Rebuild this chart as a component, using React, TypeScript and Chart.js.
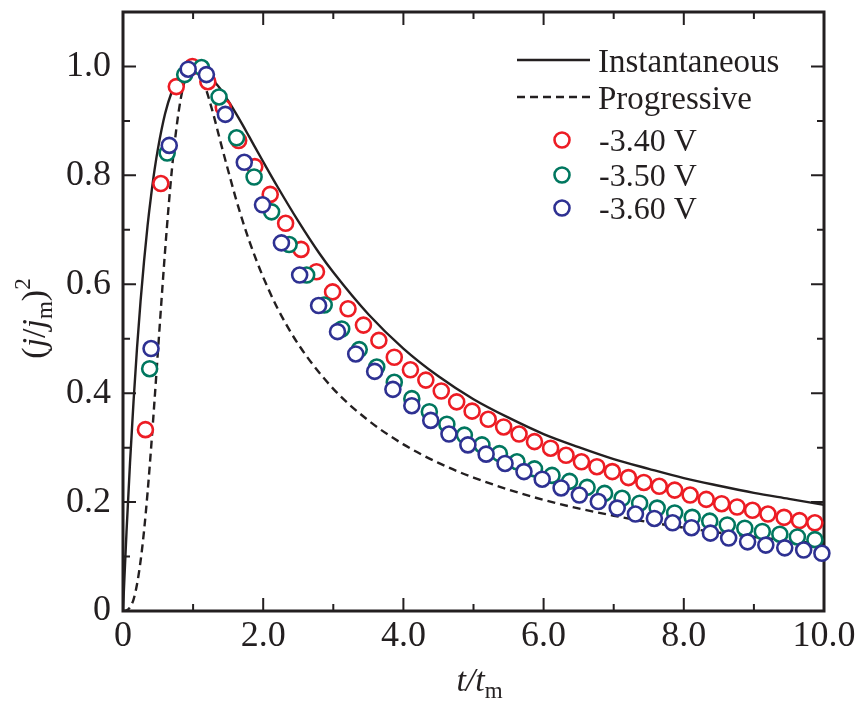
import React, { useEffect, useRef } from 'react';
import { Chart, registerables } from 'chart.js';

Chart.register(...registerables);

// ---- data ----
const instT = [0, 0.02, 0.05, 0.1, 0.15, 0.2, 0.25, 0.3, 0.35, 0.4, 0.45, 0.5, 0.6, 0.7, 0.8, 0.9, 1.0, 1.1, 1.2, 1.3, 1.4, 1.5, 1.6, 1.7, 1.8, 2.0, 2.2, 2.5, 2.8, 3.0, 3.5, 4.0, 4.5, 5.0, 5.5, 6.0, 6.5, 7.0, 7.5, 8.0, 8.5, 9.0, 9.5, 10.0];
const instV = [0, 0.060, 0.145, 0.272, 0.384, 0.483, 0.568, 0.642, 0.707, 0.762, 0.810, 0.850, 0.913, 0.955, 0.982, 0.996, 1.000, 0.996, 0.987, 0.973, 0.957, 0.937, 0.916, 0.894, 0.871, 0.825, 0.780, 0.716, 0.657, 0.622, 0.545, 0.482, 0.431, 0.389, 0.355, 0.325, 0.301, 0.279, 0.261, 0.244, 0.230, 0.217, 0.206, 0.195];

const progT = [0, 0.05, 0.1, 0.15, 0.2, 0.25, 0.3, 0.35, 0.4, 0.45, 0.5, 0.55, 0.6, 0.65, 0.7, 0.75, 0.8, 0.85, 0.9, 0.95, 1.0, 1.05, 1.1, 1.15, 1.2, 1.25, 1.3, 1.35, 1.4, 1.5, 1.6, 1.7, 1.8, 1.9, 2.0, 2.2, 2.5, 3.0, 3.5, 4.0, 4.5, 5.0, 6.0, 7.0, 8.0, 9.0, 10.0];
const progV = [0, 0.001, 0.007, 0.021, 0.049, 0.091, 0.147, 0.217, 0.298, 0.387, 0.480, 0.572, 0.661, 0.742, 0.814, 0.874, 0.922, 0.958, 0.982, 0.996, 1.000, 0.996, 0.986, 0.971, 0.952, 0.930, 0.907, 0.882, 0.857, 0.809, 0.762, 0.719, 0.680, 0.645, 0.613, 0.557, 0.490, 0.408, 0.350, 0.306, 0.272, 0.245, 0.204, 0.175, 0.153, 0.136, 0.123];

const redT = [0.32, 0.54, 0.76, 0.99, 1.21, 1.43, 1.65, 1.88, 2.10, 2.32, 2.54, 2.76, 2.99, 3.21, 3.43, 3.65, 3.87, 4.10, 4.32, 4.54, 4.76, 4.98, 5.21, 5.43, 5.65, 5.87, 6.10, 6.32, 6.54, 6.76, 6.98, 7.21, 7.43, 7.65, 7.87, 8.09, 8.32, 8.54, 8.76, 8.98, 9.20, 9.43, 9.65, 9.87];
const redV = [0.333, 0.785, 0.963, 1.000, 0.972, 0.925, 0.864, 0.816, 0.765, 0.712, 0.664, 0.623, 0.586, 0.555, 0.525, 0.497, 0.466, 0.443, 0.424, 0.404, 0.384, 0.367, 0.352, 0.338, 0.325, 0.311, 0.299, 0.286, 0.274, 0.265, 0.256, 0.245, 0.236, 0.229, 0.222, 0.213, 0.205, 0.197, 0.191, 0.185, 0.178, 0.172, 0.166, 0.162];

const greenT = [0.38, 0.63, 0.88, 1.12, 1.37, 1.62, 1.87, 2.12, 2.37, 2.62, 2.87, 3.12, 3.37, 3.62, 3.87, 4.12, 4.37, 4.62, 4.87, 5.12, 5.37, 5.62, 5.87, 6.12, 6.37, 6.62, 6.87, 7.12, 7.37, 7.62, 7.87, 8.12, 8.37, 8.62, 8.87, 9.12, 9.37, 9.62, 9.87];
const greenV = [0.445, 0.841, 0.985, 0.998, 0.944, 0.869, 0.797, 0.733, 0.673, 0.617, 0.562, 0.518, 0.480, 0.448, 0.420, 0.390, 0.366, 0.343, 0.323, 0.305, 0.289, 0.274, 0.261, 0.249, 0.238, 0.227, 0.216, 0.207, 0.198, 0.189, 0.180, 0.172, 0.165, 0.158, 0.152, 0.146, 0.141, 0.136, 0.131];

const blueT = [0.40, 0.66, 0.93, 1.19, 1.46, 1.73, 1.99, 2.26, 2.52, 2.79, 3.06, 3.32, 3.59, 3.85, 4.12, 4.39, 4.65, 4.92, 5.18, 5.45, 5.72, 5.98, 6.25, 6.51, 6.78, 7.05, 7.31, 7.58, 7.84, 8.11, 8.38, 8.64, 8.91, 9.17, 9.44, 9.71, 9.97];
const blueV = [0.482, 0.855, 0.995, 0.985, 0.912, 0.824, 0.746, 0.676, 0.617, 0.561, 0.513, 0.472, 0.440, 0.407, 0.377, 0.350, 0.325, 0.305, 0.288, 0.271, 0.256, 0.242, 0.226, 0.213, 0.201, 0.189, 0.178, 0.170, 0.162, 0.153, 0.143, 0.134, 0.127, 0.121, 0.116, 0.112, 0.106];

const seriesLabels = ['Instantaneous', 'Progressive', '-3.40 V', '-3.50 V', '-3.60 V'];

const xTickValues = [0, 2, 4, 6, 8, 10];
const xTickLabels = ['0', '2.0', '4.0', '6.0', '8.0', '10.0'];
const xMinorTicks = [1, 3, 5, 7, 9];
const yTickValues = [0, 0.2, 0.4, 0.6, 0.8, 1.0];
const yTickLabels = ['0', '0.2', '0.4', '0.6', '0.8', '1.0'];
const yMinorTicks = [0.1, 0.3, 0.5, 0.7, 0.9];

// ---- styles ----
const INK = '#231f20';
const RED = '#ed1c24';
const GREEN = '#00775f';
const BLUE = '#2e3192';
const SERIF = '"Liberation Serif", "Times New Roman", serif';

const toXY = (xs: number[], ys: number[]) => xs.map((x, i) => ({ x, y: ys[i] }));

const framePlugin = {
  id: 'frameTicks',
  beforeDatasetsDraw(chart: any) {
    const { ctx, chartArea: ca, scales } = chart;
    const xs = scales.x, ys = scales.y;
    ctx.save();
    ctx.strokeStyle = INK;
    ctx.lineCap = 'butt';
    const major = 13, minor = 7;
    ctx.lineWidth = 2;
    const vt = (v: number, len: number) => {
      const px = xs.getPixelForValue(v);
      ctx.beginPath();
      ctx.moveTo(px, ca.bottom); ctx.lineTo(px, ca.bottom - len);
      ctx.moveTo(px, ca.top); ctx.lineTo(px, ca.top + len);
      ctx.stroke();
    };
    const ht = (v: number, len: number) => {
      const py = ys.getPixelForValue(v);
      ctx.beginPath();
      ctx.moveTo(ca.left, py); ctx.lineTo(ca.left + len, py);
      ctx.moveTo(ca.right, py); ctx.lineTo(ca.right - len, py);
      ctx.stroke();
    };
    xTickValues.forEach(v => vt(v, major));
    xMinorTicks.forEach(v => vt(v, minor));
    yTickValues.forEach(v => ht(v, major));
    yMinorTicks.forEach(v => ht(v, minor));
    ctx.lineWidth = 3;
    ctx.strokeRect(ca.left, ca.top, ca.right - ca.left, ca.bottom - ca.top);
    ctx.restore();
  },
};

type Run = { t: string; font: string; dy?: number };
const drawRuns = (ctx: CanvasRenderingContext2D, runs: Run[], cx: number, by: number) => {
  let total = 0;
  runs.forEach(r => { ctx.font = r.font; total += ctx.measureText(r.t).width; });
  let x = cx - total / 2;
  runs.forEach(r => {
    ctx.font = r.font;
    ctx.fillText(r.t, x, by + (r.dy || 0));
    x += ctx.measureText(r.t).width;
  });
};

const titlePlugin = {
  id: 'titles',
  afterDraw(chart: any) {
    const { ctx, chartArea: ca } = chart;
    const big = `34px ${SERIF}`;
    const bigI = `italic 34px ${SERIF}`;
    const small = `23px ${SERIF}`;
    ctx.save();
    ctx.fillStyle = INK;
    ctx.textBaseline = 'alphabetic';
    ctx.textAlign = 'left';
    // x title
    drawRuns(ctx, [
      { t: 't', font: bigI }, { t: '/', font: bigI }, { t: 't', font: bigI }, { t: 'm', font: small, dy: 7 },
    ], (ca.left + ca.right) / 2 + 6, 691);
    // y title
    ctx.translate(45, (ca.top + ca.bottom) / 2 + 7);
    ctx.rotate(-Math.PI / 2);
    drawRuns(ctx, [
      { t: '(', font: big }, { t: 'j', font: bigI }, { t: '/', font: big }, { t: 'j', font: bigI },
      { t: 'm', font: small, dy: 7 }, { t: ')', font: big }, { t: '2', font: small, dy: -15 },
    ], 0, 0);
    ctx.restore();
  },
};

const legendPlugin = {
  id: 'insideLegend',
  afterDraw(chart: any) {
    const { ctx, chartArea: ca } = chart;
    const rowY = [48, 85, 128, 163, 196];
    ctx.save();
    ctx.textBaseline = 'alphabetic';
    ctx.textAlign = 'left';
    chart.data.datasets.forEach((ds: any, i: number) => {
      const y = ca.top + rowY[i];
      if (ds.showLine !== false) {
        ctx.strokeStyle = ds.borderColor;
        ctx.lineWidth = ds.borderWidth;
        ctx.setLineDash(ds.borderDash || []);
        ctx.beginPath();
        ctx.moveTo(517, y); ctx.lineTo(590, y);
        ctx.stroke();
        ctx.setLineDash([]);
        ctx.font = `33px ${SERIF}`;
        ctx.fillStyle = INK;
        ctx.fillText(ds.label, 598, y + 12);
      } else {
        ctx.strokeStyle = ds.pointBorderColor;
        ctx.fillStyle = '#ffffff';
        ctx.lineWidth = ds.pointBorderWidth;
        ctx.beginPath();
        ctx.arc(562, y, ds.pointRadius, 0, Math.PI * 2);
        ctx.fill();
        ctx.stroke();
        ctx.font = `32px ${SERIF}`;
        ctx.fillStyle = INK;
        ctx.fillText(ds.label, 599, y + 11);
      }
    });
    ctx.restore();
  },
};

export default function App() {
  const ref = useRef<HTMLCanvasElement | null>(null);

  useEffect(() => {
    if (!ref.current) return;
    const pointSet = (label: string, xs: number[], ys: number[], color: string, order: number) => ({
      type: 'scatter' as const,
      label,
      data: toXY(xs, ys),
      showLine: false,
      pointRadius: 7.5,
      pointHoverRadius: 7.5,
      pointBorderWidth: 2.6,
      pointBorderColor: color,
      pointBackgroundColor: '#ffffff',
      borderColor: color,
      backgroundColor: '#ffffff',
      clip: false as any,
      order,
    });
    const chart = new Chart(ref.current, {
      type: 'scatter',
      data: {
        datasets: [
          {
            type: 'line', label: seriesLabels[0], data: toXY(instT, instV),
            borderColor: INK, borderWidth: 2.4, pointRadius: 0, fill: false,
            cubicInterpolationMode: 'monotone', showLine: true, order: 4,
          } as any,
          {
            type: 'line', label: seriesLabels[1], data: toXY(progT, progV),
            borderColor: INK, borderWidth: 2.4, borderDash: [8, 5], pointRadius: 0, fill: false,
            cubicInterpolationMode: 'monotone', showLine: true, order: 3,
          } as any,
          pointSet(seriesLabels[2], redT, redV, RED, 2) as any,
          pointSet(seriesLabels[3], greenT, greenV, GREEN, 1) as any,
          pointSet(seriesLabels[4], blueT, blueV, BLUE, 0) as any,
        ],
      },
      options: {
        animation: false,
        responsive: false,
        devicePixelRatio: 1,
        layout: { padding: { left: 0, top: 12, right: 35, bottom: 0 } },
        plugins: { legend: { display: false }, tooltip: { enabled: false }, title: { display: false } },
        scales: {
          x: {
            type: 'linear', min: 0, max: 10,
            grid: { display: false, drawTicks: false },
            border: { display: false },
            afterBuildTicks: (s: any) => { s.ticks = xTickValues.map(v => ({ value: v })); },
            afterFit: (s: any) => { s.height = 91; s.paddingLeft = 0; s.paddingRight = 0; },
            ticks: {
              padding: 8, color: INK, maxRotation: 0, autoSkip: false,
              font: { family: SERIF, size: 36, lineHeight: 1 },
              callback: (v: any) => { const i = xTickValues.indexOf(Number(v)); return i >= 0 ? xTickLabels[i] : ''; },
            },
          },
          y: {
            type: 'linear', min: 0, max: 1.1,
            grid: { display: false, drawTicks: false },
            border: { display: false },
            afterBuildTicks: (s: any) => { s.ticks = yTickValues.map(v => ({ value: v })); },
            afterFit: (s: any) => { s.width = 123; s.paddingTop = 0; s.paddingBottom = 0; },
            ticks: {
              padding: 12, color: INK, autoSkip: false,
              font: { family: SERIF, size: 36, lineHeight: 1 },
              callback: (v: any) => { const i = yTickValues.findIndex(t => Math.abs(t - Number(v)) < 1e-9); return i >= 0 ? yTickLabels[i] : ''; },
            },
          },
        },
      } as any,
      plugins: [framePlugin, legendPlugin, titlePlugin],
    });
    return () => chart.destroy();
  }, []);

  return (
    <div style={{ position: 'fixed', left: 0, top: 0, width: 859, height: 702, background: '#ffffff' }}>
      <canvas ref={ref} width={859} height={702} style={{ display: 'block', width: 859, height: 702 }} />
    </div>
  );
}
